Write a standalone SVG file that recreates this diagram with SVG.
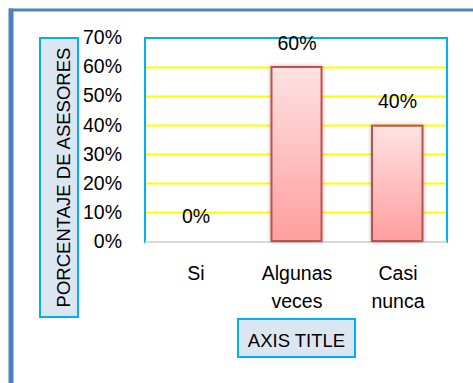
<svg xmlns="http://www.w3.org/2000/svg" width="473" height="383" viewBox="0 0 473 383">
<style>
text{font-family:"Liberation Sans",Arial,sans-serif;fill:#000}
.tick{font-size:19.5px;text-anchor:end}
.lbl{font-size:19.5px;text-anchor:middle}
.cat{font-size:19.5px;text-anchor:middle}
.grid{stroke:#FFFF00;stroke-width:2}
.bar{fill:url(#bg);stroke:#C0504D;stroke-width:2;filter:url(#sh)}
.box{fill:#DCE6F2;stroke:#00B0F0;stroke-width:2}
</style>
<defs>
<linearGradient id="bg" x1="0" y1="0" x2="0" y2="1">
<stop offset="0" stop-color="#FFE2E2"/>
<stop offset="1" stop-color="#FF9E9E"/>
</linearGradient>
<filter id="sh" x="-20%" y="-10%" width="140%" height="120%">
<feGaussianBlur in="SourceAlpha" stdDeviation="2"/>
<feComponentTransfer><feFuncA type="linear" slope="0.3"/></feComponentTransfer>
<feMerge><feMergeNode/><feMergeNode in="SourceGraphic"/></feMerge>
</filter>
</defs>
<rect width="473" height="383" fill="#fff"/>
<g id="frame">
<rect x="9" y="8.5" width="464" height="3" fill="#4F81BD"/>
<rect x="8.5" y="8.5" width="5" height="374.5" fill="#4F81BD"/>
</g>
<g id="plot">
<line class="grid" x1="145" y1="67.5" x2="447" y2="67.5"/>
<line class="grid" x1="145" y1="96.5" x2="447" y2="96.5"/>
<line class="grid" x1="145" y1="125.5" x2="447" y2="125.5"/>
<line class="grid" x1="145" y1="154.5" x2="447" y2="154.5"/>
<line class="grid" x1="145" y1="183.5" x2="447" y2="183.5"/>
<line class="grid" x1="145" y1="212.5" x2="447" y2="212.5"/>
<rect x="145" y="38" width="302" height="204" fill="none" stroke="#00B0F0" stroke-width="2"/>
<line x1="145" y1="242" x2="447" y2="242" stroke="#D9D9D9" stroke-width="2"/>
</g>
<g id="ticks">
<text class="tick" x="122" y="44">70%</text>
<text class="tick" x="122" y="73">60%</text>
<text class="tick" x="122" y="102">50%</text>
<text class="tick" x="122" y="131.5">40%</text>
<text class="tick" x="122" y="160.5">30%</text>
<text class="tick" x="122" y="189.5">20%</text>
<text class="tick" x="122" y="218.5">10%</text>
<text class="tick" x="122" y="247.5">0%</text>
</g>
<g id="bar-algunas">
<rect class="bar" x="271.5" y="67" width="50" height="174"/>
<text class="lbl" x="297" y="50">60%</text>
</g>
<g id="bar-casi">
<rect class="bar" x="372" y="125.7" width="50.5" height="115.3"/>
<text class="lbl" x="397.5" y="108">40%</text>
</g>
<g id="bar-si">
<text class="lbl" x="196" y="223">0%</text>
</g>
<g id="categories">
<text class="cat" x="196" y="280">Si</text>
<text class="cat" x="297" y="280">Algunas</text>
<text class="cat" x="297" y="308">veces</text>
<text class="cat" x="398" y="280">Casi</text>
<text class="cat" x="398" y="308">nunca</text>
</g>
<g id="y-title">
<rect class="box" x="40" y="38" width="38" height="279"/>
<text x="0" y="0" font-size="18.5" text-anchor="middle" transform="translate(70,177.5) rotate(-90)">PORCENTAJE DE ASESORES</text>
</g>
<g id="x-title">
<rect class="box" x="238" y="319" width="117" height="38"/>
<text x="296.5" y="346.5" font-size="18.5" text-anchor="middle">AXIS TITLE</text>
</g>
</svg>
